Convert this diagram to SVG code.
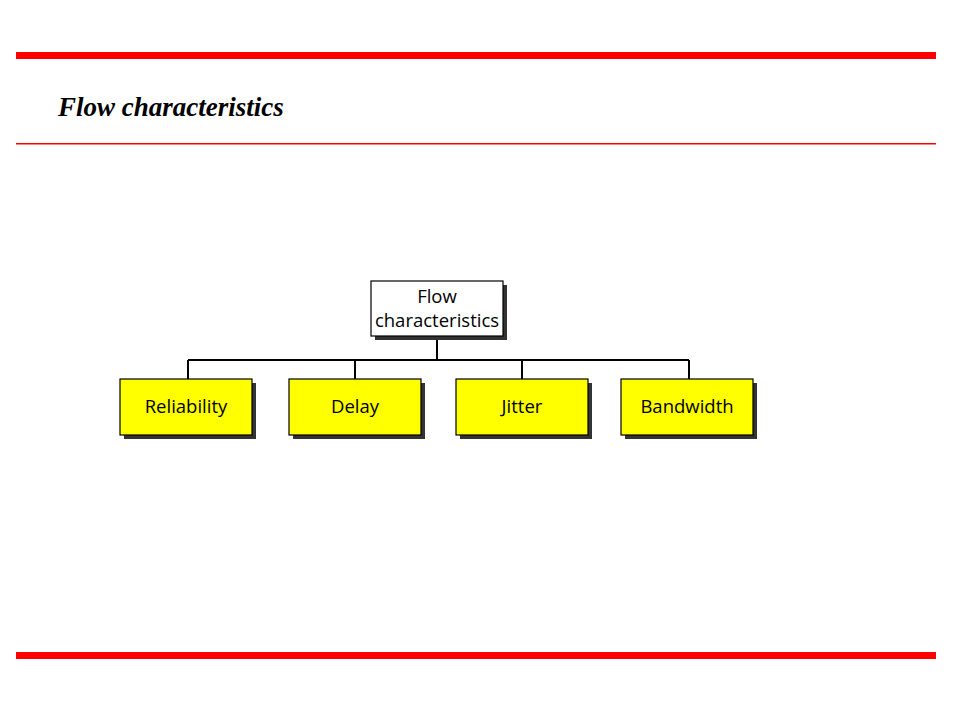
<svg xmlns="http://www.w3.org/2000/svg" width="960" height="720" viewBox="0 0 960 720">
<style>
.bar{fill:#ff0000}
.box{stroke:#000;stroke-width:1.2}
.shadow{fill:#333}
.lbl{font-family:"Open Sans","Noto Sans",sans-serif;font-size:18.5px;fill:#000;text-anchor:middle}
.conn{stroke:#000;stroke-width:2;fill:none}
</style>
<rect width="960" height="720" fill="#fff"/>
<rect class="bar" x="16" y="52" width="920" height="7"/>
<rect class="bar" x="16" y="143" width="920" height="1.5"/>
<rect class="bar" x="16" y="652" width="920" height="7"/>
<text x="58" y="116" font-family="Liberation Serif, serif" font-size="27" font-weight="bold" font-style="italic">Flow characteristics</text>
<g id="connectors">
<path class="conn" d="M437 336 V360 M188 360 H689 M188 360 V379 M355 360 V379 M522 360 V379 M689 360 V379"/>
</g>
<g id="root">
<rect class="shadow" x="375" y="285" width="132" height="55"/>
<rect class="box" x="371" y="281" width="132" height="55" fill="#fff"/>
<text class="lbl" x="437" y="303">Flow</text>
<text class="lbl" x="437" y="327">characteristics</text>
</g>
<g id="reliability">
<rect class="shadow" x="124" y="383" width="132" height="56"/>
<rect class="box" x="120" y="379" width="132" height="56" fill="#ffff00"/>
<text class="lbl" x="186" y="413">Reliability</text>
</g>
<g id="delay">
<rect class="shadow" x="293" y="383" width="132" height="56"/>
<rect class="box" x="289" y="379" width="132" height="56" fill="#ffff00"/>
<text class="lbl" x="355" y="413">Delay</text>
</g>
<g id="jitter">
<rect class="shadow" x="460" y="383" width="132" height="56"/>
<rect class="box" x="456" y="379" width="132" height="56" fill="#ffff00"/>
<text class="lbl" x="522" y="413">Jitter</text>
</g>
<g id="bandwidth">
<rect class="shadow" x="625" y="383" width="132" height="56"/>
<rect class="box" x="621" y="379" width="132" height="56" fill="#ffff00"/>
<text class="lbl" x="687" y="413">Bandwidth</text>
</g>
</svg>
